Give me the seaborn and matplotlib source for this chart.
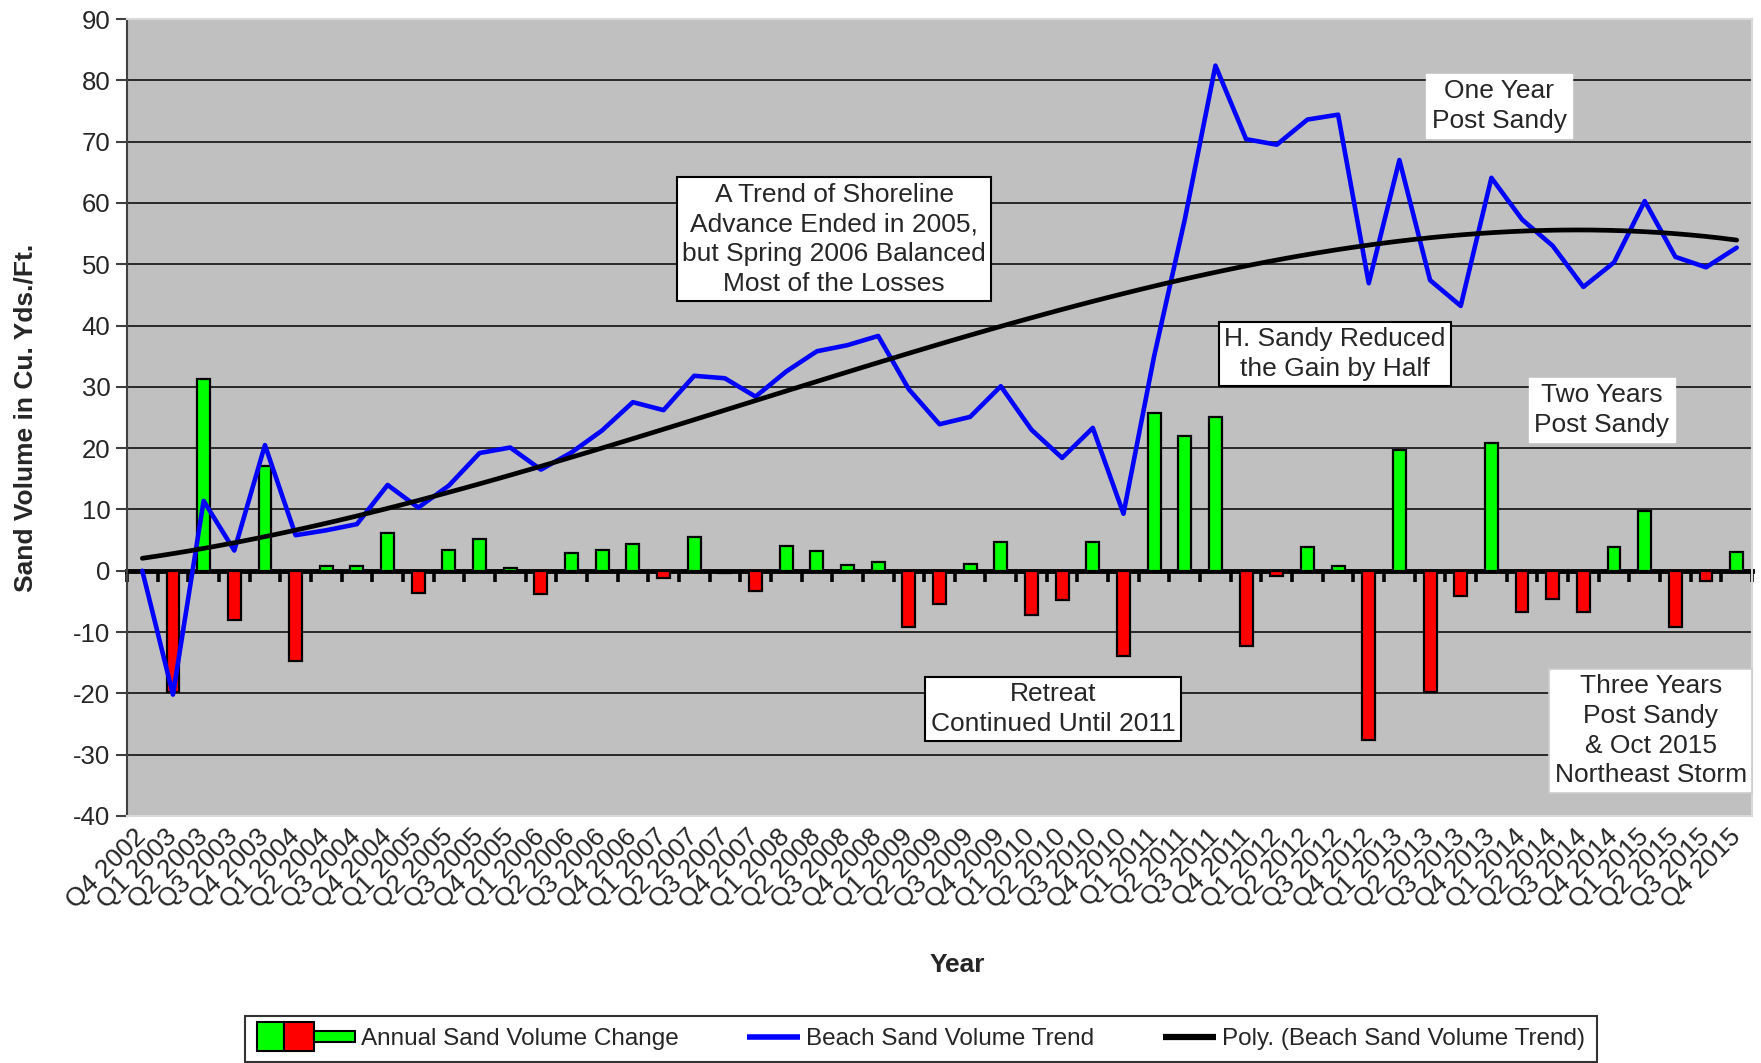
import numpy as np
import pandas as pd
import matplotlib
matplotlib.use("Agg")
import matplotlib.pyplot as plt
import seaborn as sns
from matplotlib.legend_handler import HandlerBase
from matplotlib.patches import Rectangle, Patch
from matplotlib.lines import Line2D

# Quarters on the x axis
quarters = [
    "Q4 2002",
    "Q1 2003", "Q2 2003", "Q3 2003", "Q4 2003",
    "Q1 2004", "Q2 2004", "Q3 2004", "Q4 2004",
    "Q1 2005", "Q2 2005", "Q3 2005", "Q4 2005",
    "Q1 2006", "Q2 2006", "Q3 2006", "Q4 2006",
    "Q1 2007", "Q2 2007", "Q3 2007", "Q4 2007",
    "Q1 2008", "Q2 2008", "Q3 2008", "Q4 2008",
    "Q1 2009", "Q2 2009", "Q3 2009", "Q4 2009",
    "Q1 2010", "Q2 2010", "Q3 2010", "Q4 2010",
    "Q1 2011", "Q2 2011", "Q3 2011", "Q4 2011",
    "Q1 2012", "Q2 2012", "Q3 2012", "Q4 2012",
    "Q1 2013", "Q2 2013", "Q3 2013", "Q4 2013",
    "Q1 2014", "Q2 2014", "Q3 2014", "Q4 2014",
    "Q1 2015", "Q2 2015", "Q3 2015", "Q4 2015",
]

# Beach sand volume (blue line), cu. yds./ft.
volume = [
    0.0,
    -20.2, 11.4, 3.3, 20.5,
    5.8, 6.6, 7.6, 14.0,
    10.3, 13.9, 19.2, 20.1,
    16.5, 19.3, 22.9, 27.5,
    26.2, 31.8, 31.4, 28.4,
    32.5, 35.8, 36.8, 38.3,
    29.6, 23.9, 25.1, 30.1,
    23.0, 18.4, 23.3, 9.3,
    35.0, 57.3, 82.4, 70.4,
    69.5, 73.6, 74.4, 46.9,
    67.0, 47.4, 43.2, 64.1,
    57.3, 53.0, 46.3, 50.3,
    60.3, 51.2, 49.5, 52.7,
]

# Sand volume change (bars)
change = [
    0.0,
    -19.8, 31.2, -8.0, 17.1,
    -14.8, 0.8, 0.8, 6.2,
    -3.7, 3.4, 5.2, 0.5,
    -3.8, 2.9, 3.4, 4.3,
    -1.2, 5.5, -0.4, -3.3,
    4.1, 3.3, 0.9, 1.5,
    -9.1, -5.5, 1.1, 4.7,
    -7.3, -4.7, 4.7, -13.9,
    25.8, 22.0, 25.1, -12.2,
    -0.8, 3.8, 0.7, -27.6,
    19.7, -19.7, -4.2, 20.9,
    -6.8, -4.6, -6.8, 3.8,
    9.7, -9.2, -1.7, 3.1,
]

df = pd.DataFrame({"quarter": quarters, "volume": volume, "change": change})
df["pos"] = np.arange(len(df))

GREEN = "#00FF00"
RED = "#FF0000"
BLUE = "#0000FF"
bar_colors = {q: (GREEN if c >= 0 else RED) for q, c in zip(quarters, change)}

sns.set_style("white")
plt.rcParams["font.family"] = ["Liberation Sans", "DejaVu Sans"]
plt.rcParams["axes.unicode_minus"] = False


class SwatchHandler(HandlerBase):
    # green + red box and a small green bar, like the Excel legend key
    def create_artists(self, legend, orig_handle, xdescent, ydescent,
                       width, height, fontsize, trans):
        x0, y0 = -xdescent, -ydescent
        h = height * 1.7
        yb = y0 + height / 2 - h / 2
        bw = width * 0.27
        g = Rectangle((x0, yb), bw, h, fc=GREEN, ec="black", lw=1.5, transform=trans)
        r = Rectangle((x0 + bw, yb), bw * 1.15, h, fc=RED, ec="black", lw=1.5, transform=trans)
        sx = x0 + bw * 2.15
        s = Rectangle((sx, y0 + height / 2 - h * 0.2), x0 + width - sx, h * 0.4,
                      fc=GREEN, ec="black", lw=1.5, transform=trans)
        return [g, r, s]


class ShortLineHandler(HandlerBase):
    # line key drawn only on the right part of the handle box
    def create_artists(self, legend, orig_handle, xdescent, ydescent,
                       width, height, fontsize, trans):
        x0, y0 = -xdescent, -ydescent
        ln = Line2D([x0 + width * 0.46, x0 + width], [y0 + height / 2] * 2,
                    color=orig_handle.get_color(), lw=orig_handle.get_linewidth(),
                    solid_capstyle="butt", transform=trans)
        return [ln]


fig = plt.figure(figsize=(17.61, 10.63), dpi=100)
ax = fig.add_axes([0.0721, 0.2324, 0.9228, 0.7497])
ax.set_facecolor("#C0C0C0")

sns.barplot(data=df, x="quarter", y="change", hue="quarter", palette=bar_colors,
            legend=False, width=0.42, edgecolor="black", linewidth=1.6,
            saturation=1, ax=ax, zorder=3)

sns.lineplot(data=df, x="pos", y="volume", color=BLUE, lw=3.3, ax=ax, zorder=5)
sns.regplot(data=df, x="pos", y="volume", order=3, ci=None, scatter=False,
            color="black", line_kws={"lw": 3.4, "zorder": 6}, ax=ax)

ax.set_xlim(-0.5, len(df) - 0.5)
ax.set_ylim(-40, 90)
ax.set_yticks(range(-40, 91, 10))
ax.yaxis.grid(True, color="black", lw=1.1)
ax.xaxis.grid(False)
ax.set_axisbelow(True)

for side in ["top", "right", "bottom"]:
    ax.spines[side].set_color("#D9D9D9")
    ax.spines[side].set_linewidth(1.5)
ax.spines["left"].set_color("#404040")
ax.spines["left"].set_linewidth(1.5)

ax.tick_params(axis="y", direction="out", length=8, width=1.5, color="#404040",
               labelsize=18.5, pad=4, left=True)
ax.tick_params(axis="x", length=0, labelsize=19, pad=12)
ax.set_xticks(df["pos"])
ax.set_xticklabels(quarters)
for lab in ax.get_xticklabels():
    lab.set_rotation(45)
    lab.set_ha("right")
    lab.set_va("center")
    lab.set_rotation_mode("anchor")

# zero axis with category tick marks
zero = ax.secondary_xaxis(0, transform=ax.transData)
zero.set_xticks(np.arange(-0.5, len(df), 1.0))
zero.tick_params(direction="out", length=8, width=2.6, color="black", labelbottom=False)
zero.spines["bottom"].set_linewidth(3.5)
zero.spines["bottom"].set_color("black")

ax.set_xlabel("Year", fontsize=19, fontweight="bold")
ax.set_ylabel("Sand Volume in Cu. Yds./Ft.", fontsize=19, fontweight="bold")
ax.xaxis.set_label_coords(0.511, -0.172)
ax.yaxis.set_label_coords(-0.055, 0.5)

boxed = dict(boxstyle="square,pad=0.2", fc="white", ec="black", lw=1.5)
plain = dict(boxstyle="square,pad=0.2", fc="white", ec="white", lw=1)
light = dict(boxstyle="square,pad=0.2", fc="white", ec="#CCCCCC", lw=1.2)
notes = [
    (22.56, 54.1, "A Trend of Shoreline\nAdvance Ended in 2005,\nbut Spring 2006 Balanced\nMost of the Losses", boxed),
    (44.25, 75.8, "One Year\nPost Sandy", plain),
    (38.9, 35.4, "H. Sandy Reduced\nthe Gain by Half", boxed),
    (47.6, 26.2, "Two Years\nPost Sandy", plain),
    (29.7, -22.6, "Retreat\nContinued Until 2011", boxed),
    (49.2, -26.1, "Three Years\nPost Sandy\n& Oct 2015\nNortheast Storm", light),
]
for x, y, txt, bb in notes:
    ax.text(x, y, txt, ha="center", va="center", fontsize=19, linespacing=1.3,
            bbox=bb, zorder=8, clip_on=False)

h_bar = Patch(fc=GREEN)
h_blue = Line2D([], [], color=BLUE, lw=4)
h_poly = Line2D([], [], color="black", lw=4.5)
leg = fig.legend([h_bar, h_blue, h_poly],
                 ["Annual Sand Volume Change", "Beach Sand Volume Trend",
                  "Poly. (Beach Sand Volume Trend)"],
                 handler_map={Patch: SwatchHandler(), Line2D: ShortLineHandler()},
                 loc="upper center", bbox_to_anchor=(0.523, 0.0442), ncol=3,
                 fontsize=17.5, handlelength=4.0, handletextpad=0.25,
                 columnspacing=1.0, borderpad=0.5, borderaxespad=0,
                 frameon=True, fancybox=False,
                 edgecolor="#333333", framealpha=1)
leg.get_frame().set_linewidth(1.5)

fig.savefig("out.png", dpi=100, facecolor="white")
